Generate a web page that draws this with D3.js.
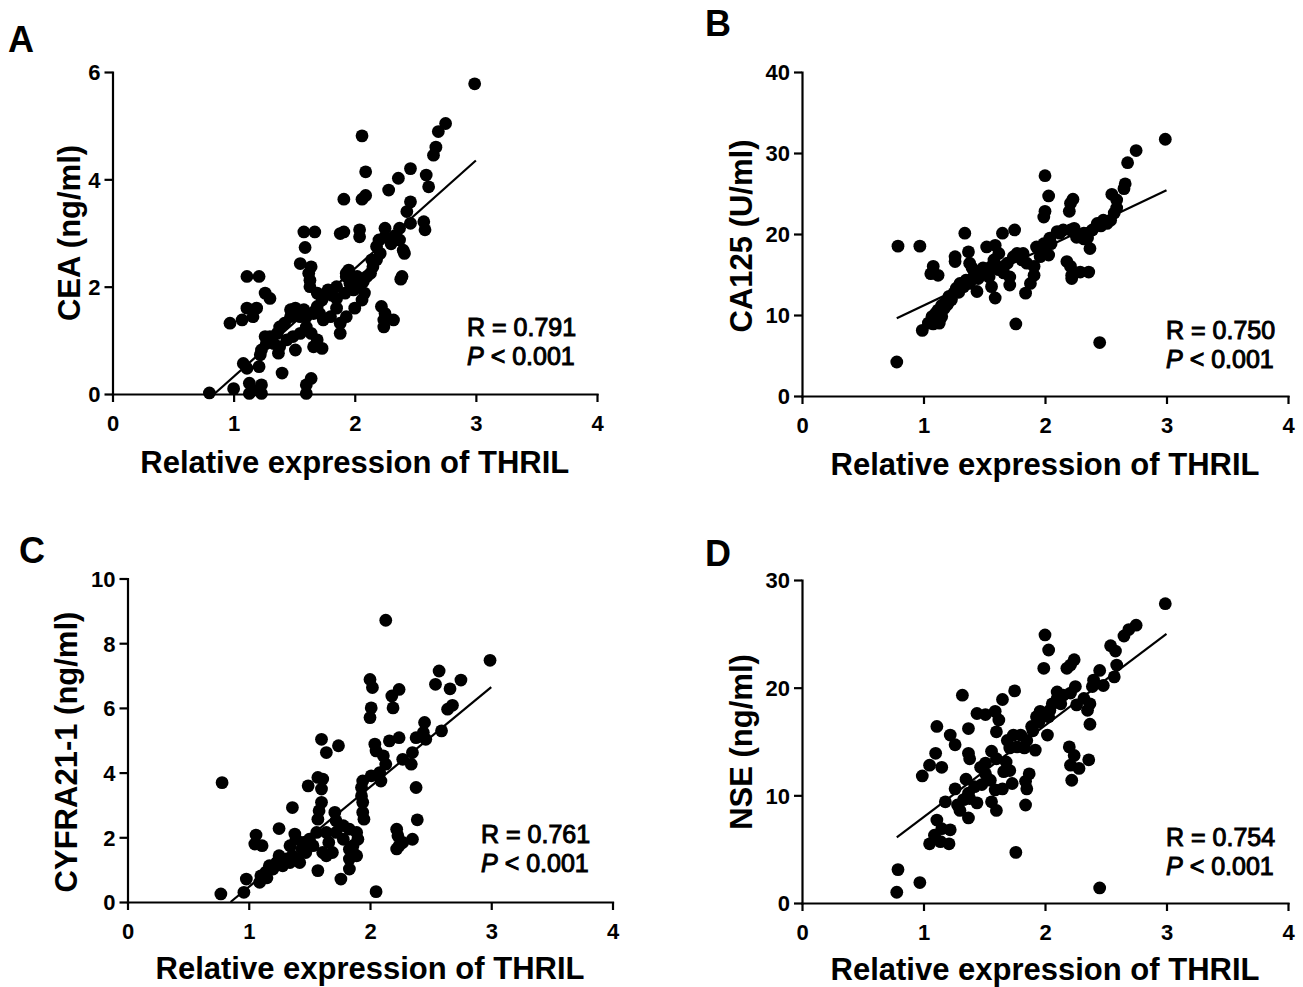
<!DOCTYPE html>
<html><head><meta charset="utf-8">
<script src="https://cdn.jsdelivr.net/npm/d3@7"></script>
<style>body{margin:0;background:#fff} svg{display:block}</style>
</head><body>
<svg id="c" width="1303" height="987"></svg>
<script>
// ---------- data ----------
const xTicks = [0, 1, 2, 3, 4];
const aTicks = [0, 2, 4, 6];
const bTicks = [0, 10, 20, 30, 40];
const cTicks = [0, 2, 4, 6, 8, 10];
const dTicks = [0, 10, 20, 30];
const xTitle = "Relative expression of THRIL";

// Panel A: THRIL vs CEA (ng/ml)
const aPts = [[2.99,5.78],[2.75,5.04],[2.69,4.89],[2.67,4.6],[2.65,4.45],[2.06,4.81],[2.09,4.14],[2.46,4.2],[2.36,4.02],[2.28,3.8],[2.59,4.08],[2.61,3.86],[1.91,3.63],[2.06,3.63],[2.09,3.7],[2.46,3.58],[2.43,3.4],[1.58,3.02],[1.67,3.02],[1.59,2.73],[1.88,2.99],[1.91,3.02],[2.04,3.06],[2.04,2.93],[2.25,3.09],[2.37,3.09],[2.46,3.18],[2.57,3.21],[2.58,3.06],[2.2,2.87],[2.18,2.75],[2.21,2.62],[2.18,2.5],[2.15,2.37],[2.13,2.25],[2.1,2.19],[2.07,2.09],[2.04,2.0],[2.37,2.87],[2.4,2.68],[2.41,2.62],[2.38,2.14],[2.39,2.19],[1.95,2.31],[1.93,2.19],[1.96,2.06],[2.02,2.19],[1.99,1.94],[2.08,1.88],[1.55,2.43],[1.64,2.37],[1.62,2.25],[1.63,2.12],[1.63,2.0],[1.11,2.19],[1.21,2.19],[1.26,1.88],[1.3,1.78],[1.11,1.6],[1.19,1.6],[1.16,1.44],[1.07,1.38],[0.97,1.32],[1.78,1.94],[1.81,1.84],[1.85,2.0],[1.77,1.88],[1.73,1.75],[1.69,1.63],[1.66,1.5],[1.71,1.5],[1.74,1.38],[1.8,1.44],[1.85,1.6],[1.88,1.32],[1.93,1.44],[1.88,1.13],[2.0,1.6],[2.06,1.75],[2.22,1.63],[2.25,1.5],[2.32,1.38],[2.24,1.25],[2.24,1.38],[1.47,1.57],[1.51,1.6],[1.58,1.57],[1.6,1.44],[1.55,1.44],[1.47,1.44],[1.38,1.25],[1.42,1.32],[1.36,1.13],[1.3,1.07],[1.26,1.07],[1.27,0.94],[1.33,0.94],[1.38,0.88],[1.37,0.76],[1.44,1.01],[1.49,1.07],[1.51,0.82],[1.55,1.13],[1.6,1.25],[1.64,1.13],[1.66,0.88],[1.73,0.85],[1.69,1.01],[1.23,0.82],[1.22,0.73],[1.08,0.57],[1.11,0.48],[1.21,0.51],[1.4,0.39],[1.64,0.29],[1.6,0.17],[1.6,0.01],[1.0,0.1],[1.13,0.2],[1.13,0.01],[1.23,0.17],[1.23,0.01],[1.16,0.07],[0.8,0.02],[2.25,2.93],[2.14,2.5],[1.93,2.25],[1.92,1.88],[1.85,1.78],[1.69,1.88],[2.3,2.8],[2.33,2.95],[1.48,1.5]];
// Panel B: THRIL vs CA125 (U/ml)
const bPts = [[2.99,31.7],[2.75,30.3],[2.68,28.8],[2.66,26.2],[2.65,25.6],[2.55,24.9],[2.59,24.2],[2.59,23.2],[2.0,27.2],[2.03,24.7],[2.0,22.8],[1.99,22.1],[2.23,24.3],[2.21,23.8],[2.2,22.8],[1.34,20.1],[1.65,20.1],[1.75,20.5],[0.79,18.5],[0.97,18.5],[1.08,16.0],[1.06,15.1],[1.12,14.9],[1.26,17.2],[1.26,16.6],[1.37,17.8],[1.38,16.4],[1.4,15.8],[1.52,18.4],[1.59,18.6],[1.62,17.6],[1.58,16.8],[1.49,15.8],[1.54,14.7],[1.56,13.5],[1.59,12.1],[1.71,14.7],[1.71,13.7],[1.66,16.0],[1.77,17.6],[1.82,17.6],[1.85,16.4],[1.91,16.0],[1.91,14.9],[1.88,13.9],[1.84,12.7],[1.93,18.4],[1.99,18.8],[2.03,17.4],[2.04,19.5],[2.1,20.3],[2.15,20.5],[2.24,20.7],[2.26,19.9],[2.32,20.1],[2.35,19.5],[2.37,18.2],[2.39,20.5],[2.43,21.3],[2.48,21.7],[2.54,21.7],[2.57,22.6],[2.18,16.6],[2.21,16.0],[2.22,14.9],[2.22,14.5],[2.29,15.3],[2.36,15.3],[1.76,8.9],[2.45,6.6],[0.78,4.2],[0.99,8.1],[1.04,9.0],[1.07,9.8],[1.1,10.2],[1.12,10.6],[1.15,11.2],[1.18,11.6],[1.11,9.4],[1.15,9.8],[1.21,12.3],[1.25,12.7],[1.27,13.3],[1.3,13.9],[1.33,13.5],[1.38,13.9],[1.41,14.7],[1.44,12.9],[1.47,15.1],[1.51,15.4],[1.55,15.9],[1.62,15.6],[1.66,15.2],[1.69,16.4],[1.74,17.2],[1.81,16.8],[1.96,17.2],[1.98,18.0],[2.05,18.8],[2.12,20.1],[2.21,20.5],[2.26,19.6],[2.32,19.4],[2.46,21.0],[2.51,21.3],[1.23,11.9],[1.19,11.2],[1.08,8.9],[1.14,10.0],[1.17,10.8],[1.13,9.0],[1.2,11.4],[1.35,14.3],[1.45,14.5],[1.29,12.8]];
// Panel C: THRIL vs CYFRA21-1 (ng/ml)
const cPts = [[2.13,8.71],[2.99,7.47],[2.57,7.14],[2.54,6.73],[2.66,6.59],[2.75,6.86],[2.68,6.08],[2.64,5.96],[2.0,6.88],[2.02,6.63],[2.01,6.0],[2.0,5.7],[2.24,6.57],[2.18,6.37],[2.19,6.0],[2.45,5.55],[2.59,5.29],[2.44,5.24],[2.38,5.08],[2.46,5.03],[1.6,5.03],[1.64,4.62],[1.74,4.83],[2.24,5.08],[2.16,4.98],[2.04,4.88],[2.05,4.67],[2.11,4.52],[2.13,4.26],[2.27,4.41],[2.35,4.62],[2.34,4.26],[0.78,3.69],[1.57,3.85],[1.61,3.8],[1.6,3.49],[1.49,3.59],[2.08,4.0],[2.01,3.9],[2.09,3.74],[1.94,3.74],[1.93,3.54],[1.36,2.92],[1.6,3.08],[1.58,2.82],[1.57,2.56],[1.93,3.28],[1.94,3.08],[1.94,2.77],[1.95,2.56],[2.38,3.54],[2.39,2.54],[2.22,2.25],[2.23,2.05],[2.24,1.74],[2.27,1.84],[2.22,1.64],[2.35,1.94],[1.71,2.77],[1.72,2.51],[1.78,2.36],[1.83,2.25],[1.89,2.15],[1.9,1.94],[1.86,1.74],[1.83,1.33],[1.83,1.02],[1.76,0.71],[2.05,0.32],[1.57,0.97],[1.25,2.27],[1.06,2.07],[1.05,1.79],[1.11,1.74],[1.38,2.1],[1.39,1.94],[1.34,1.74],[1.45,1.84],[1.5,1.94],[1.56,2.15],[1.53,1.74],[1.47,1.53],[1.42,1.22],[1.36,1.43],[1.31,1.33],[1.25,1.43],[1.23,1.22],[1.17,1.12],[1.14,0.92],[1.1,0.81],[1.09,0.61],[0.98,0.71],[0.96,0.3],[0.77,0.25],[1.61,1.53],[1.64,1.43],[1.66,1.84],[1.69,1.53],[1.64,2.15],[1.72,2.15],[1.78,1.94],[1.86,1.53],[1.89,1.43],[1.83,1.63],[1.2,1.02],[1.28,1.12],[1.34,1.22],[1.39,1.33],[1.15,0.75],[1.44,1.64]];
// Panel D: THRIL vs NSE (ng/ml)
const dPts = [[2.99,27.8],[2.75,25.8],[2.69,25.4],[2.65,24.8],[2.54,23.9],[2.58,23.4],[2.59,22.1],[2.57,21.0],[2.45,21.6],[2.4,20.7],[2.48,20.2],[2.39,20.1],[2.0,24.9],[2.03,23.5],[1.99,21.8],[2.24,22.6],[2.21,22.1],[2.18,21.8],[1.32,19.3],[1.65,18.9],[1.75,19.7],[2.1,19.6],[2.15,19.3],[2.25,20.1],[2.21,19.5],[2.1,19.0],[2.13,18.5],[2.32,19.0],[2.37,18.5],[2.26,18.4],[2.35,17.9],[2.37,16.6],[2.04,17.9],[2.03,17.3],[1.93,17.3],[1.95,16.8],[1.89,16.4],[2.02,15.6],[1.92,14.2],[1.83,14.4],[1.85,15.1],[1.8,15.6],[1.74,15.6],[1.69,15.1],[1.44,17.6],[1.51,17.5],[1.59,17.8],[1.62,17.0],[1.6,15.9],[1.37,16.2],[1.11,16.4],[1.22,15.6],[1.26,14.7],[1.1,13.9],[1.05,12.8],[1.15,12.6],[0.99,11.8],[1.37,13.9],[1.38,13.4],[1.51,13.0],[1.56,14.1],[1.6,13.4],[1.68,13.1],[1.66,12.2],[2.2,14.5],[2.24,13.7],[2.21,12.8],[2.28,12.5],[2.36,13.3],[2.22,11.4],[1.87,12.0],[1.84,11.3],[1.85,10.6],[1.73,11.1],[1.65,10.6],[1.59,10.5],[1.84,9.1],[1.56,9.4],[1.6,8.6],[1.44,9.3],[1.37,10.2],[1.38,9.7],[1.33,9.6],[1.26,10.6],[1.3,8.6],[1.28,9.1],[1.18,9.4],[1.37,7.9],[1.11,7.7],[1.15,6.9],[1.22,6.8],[1.09,6.3],[1.05,5.5],[1.21,5.5],[1.14,5.7],[1.76,4.7],[2.45,1.4],[0.79,3.1],[0.78,1.0],[0.97,1.9],[1.47,12.6],[1.51,12.0],[1.55,11.4],[1.71,14.4],[1.77,14.5],[1.71,12.3],[1.9,16.0],[1.96,17.8],[2.06,18.5],[1.48,11.0],[1.42,10.8],[1.35,11.5]];

// regression lines (endpoints)
const aFit = [[0.84, 0], [3.0, 4.35]];
const bFit = [[0.78, 9.6], [3.0, 25.4]];
const cFit = [[0.85, 0], [3.0, 6.64]];
const dFit = [[0.78, 6.1], [3.0, 25.0]];

const letters = ["A", "B", "C", "D"];
const yTitles = ["CEA (ng/ml)", "CA125 (U/ml)", "CYFRA21-1 (ng/ml)", "NSE (ng/ml)"];
const rValues = ["0.791", "0.750", "0.761", "0.754"];
const yMax = [6, 40, 10, 30];

// ---------- layout (pixels) ----------
const layout = [
  {px:[112.5,597], py:[394,72],    letter:[8,52],   yT:[80,233],  ann:[467,336], xT:79},
  {px:[802,1288],  py:[396,72],    letter:[705,36], yT:[752,236], ann:[1166,339], xT:79},
  {px:[127.5,612.5], py:[902,578.5], letter:[19,563], yT:[77,752], ann:[481,843], xT:77},
  {px:[802,1288],  py:[903,580],   letter:[705,566], yT:[752,742], ann:[1166,846], xT:77}
];
const pts = [aPts, bPts, cPts, dPts];
const yTickSets = [aTicks, bTicks, cTicks, dTicks];
const fits = [aFit, bFit, cFit, dFit];

const svg = d3.select("#c");
const boldFont = "'Liberation Sans', Arial, sans-serif";

letters.forEach((L, i) => {
  const lay = layout[i];
  const x = d3.scaleLinear().domain([0, 4]).range(lay.px);
  const y = d3.scaleLinear().domain([0, yMax[i]]).range(lay.py);
  const g = svg.append("g");

  // axes
  const xa = g.append("g").attr("transform", `translate(0,${lay.py[0]})`)
    .call(d3.axisBottom(x).tickValues(xTicks).tickSize(8).tickSizeOuter(0).tickFormat(d3.format("d")));
  const ya = g.append("g").attr("transform", `translate(${lay.px[0]},0)`)
    .call(d3.axisLeft(y).tickValues(yTickSets[i]).tickSize(8).tickSizeOuter(0).tickFormat(d3.format("d")));
  [xa, ya].forEach(a => {
    a.select(".domain").attr("stroke", "#000").attr("stroke-width", 2.2).attr("stroke-linecap", "square");
    a.selectAll(".tick line").attr("stroke", "#000").attr("stroke-width", 2.2);
    a.selectAll(".tick text").attr("fill", "#000").style("font-family", boldFont)
      .style("font-weight", "bold").style("font-size", "22px");
  });
  xa.selectAll(".tick text").attr("y", 37).attr("dy", 0);
  ya.selectAll(".tick text").attr("x", -12).attr("dy", "0.36em");

  // regression line
  g.append("line")
    .attr("x1", x(fits[i][0][0])).attr("y1", y(fits[i][0][1]))
    .attr("x2", x(fits[i][1][0])).attr("y2", y(fits[i][1][1]))
    .attr("stroke", "#000").attr("stroke-width", 2.2);

  // points
  g.append("g").selectAll("circle").data(pts[i]).join("circle")
    .attr("cx", d => x(d[0])).attr("cy", d => y(d[1])).attr("r", 6.4).attr("fill", "#000");

  // titles
  g.append("text").attr("x", (lay.px[0] + lay.px[1]) / 2).attr("y", lay.py[0] + lay.xT)
    .attr("text-anchor", "middle").style("font-family", boldFont).style("font-weight", "bold")
    .style("font-size", "31px").text(xTitle);
  g.append("text").attr("transform", `translate(${lay.yT[0]},${lay.yT[1]}) rotate(-90)`)
    .attr("text-anchor", "middle").style("font-family", boldFont).style("font-weight", "bold")
    .style("font-size", "31px").text(yTitles[i]);
  g.append("text").attr("x", lay.letter[0]).attr("y", lay.letter[1])
    .style("font-family", boldFont).style("font-weight", "bold").style("font-size", "36px").text(L);

  // annotation
  const ann = g.append("g").style("font-family", boldFont).style("font-size", "25px")
    .attr("fill", "#000").attr("stroke", "#000").attr("stroke-width", 1.0);
  ann.append("text").attr("x", lay.ann[0]).attr("y", lay.ann[1]).text("R = " + rValues[i]);
  const t2 = ann.append("text").attr("x", lay.ann[0]).attr("y", lay.ann[1] + 29);
  t2.append("tspan").style("font-style", "italic").text("P");
  t2.append("tspan").text(" < 0.001");
});
</script>
</body></html>
